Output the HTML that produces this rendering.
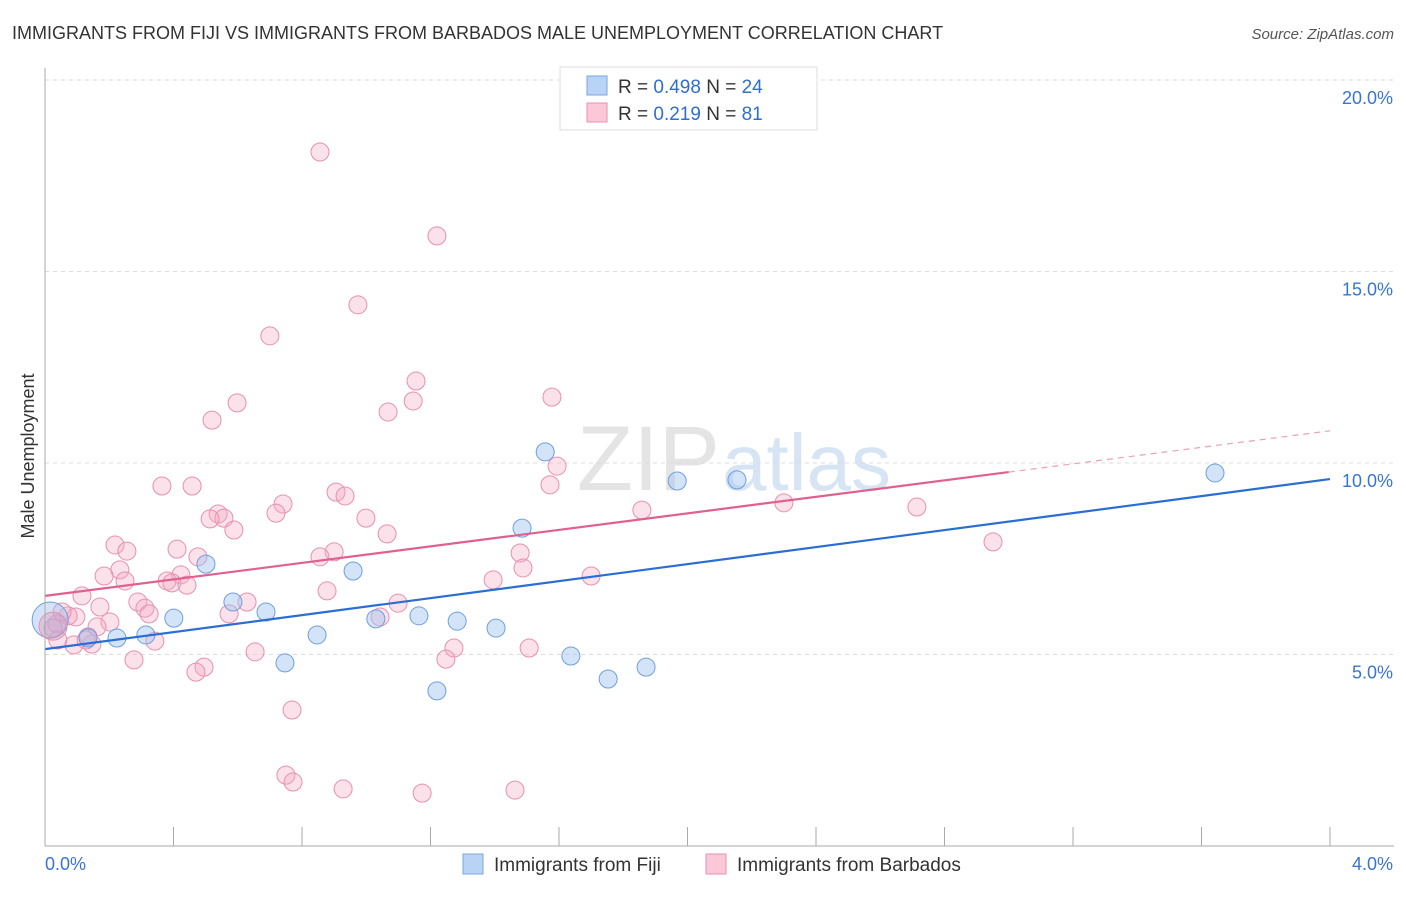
<!DOCTYPE html>
<html><head><meta charset="utf-8"><style>
body{margin:0;background:#fff;font-family:"Liberation Sans",sans-serif}
svg text{font-family:"Liberation Sans",sans-serif}
</style></head><body>
<svg id="c" width="1406" height="892">
<text x="12" y="39" font-size="18" fill="#333">IMMIGRANTS FROM FIJI VS IMMIGRANTS FROM BARBADOS MALE UNEMPLOYMENT CORRELATION CHART</text>
<text x="1394" y="39" font-size="15" fill="#555" text-anchor="end" font-style="italic">Source: ZipAtlas.com</text>
<text x="720" y="490" font-size="92" fill="#e4e4e4" text-anchor="end" font-family="Liberation Serif">ZIP</text>
<text x="722" y="490" font-size="80" fill="#d6e4f4">atlas</text>
<g id="grid"></g><g id="pts"></g><g id="lines"></g><g id="axes"></g>
<text transform="translate(34,456) rotate(-90)" font-size="18" fill="#333" text-anchor="middle">Male Unemployment</text>
<g>
<rect x="560" y="67" width="257" height="63" fill="#fff" stroke="#ddd"/>
<rect x="587" y="76" width="20" height="19" fill="#b8d3f5" stroke="#7aa6e0"/>
<rect x="587" y="103" width="20" height="19" fill="#fbc8d8" stroke="#e98fb0"/>
<text x="618" y="93" font-size="19" fill="#333">R = <tspan fill="#2f6fcf">0.498</tspan>   N = <tspan fill="#2f6fcf">24</tspan></text>
<text x="618" y="120" font-size="19" fill="#333">R =  <tspan fill="#2f6fcf">0.219</tspan>   N =  <tspan fill="#2f6fcf">81</tspan></text>
</g>
<g>
<rect x="463" y="854" width="20" height="20" fill="#b8d3f5" stroke="#7aa6e0"/>
<text x="494" y="871" font-size="19" fill="#333">Immigrants from Fiji</text>
<rect x="706" y="854" width="20" height="20" fill="#fbc8d8" stroke="#e98fb0"/>
<text x="737" y="871" font-size="19" fill="#333">Immigrants from Barbados</text>
</g>
</svg>
<script>
const yTicks=[5,10,15,20];
const yTickLabels=["5.0%","10.0%","15.0%","20.0%"];
const xTickLabels=["0.0%","4.0%"];
const fijiX=[0.016,0.134,0.224,0.314,0.401,0.501,0.585,0.688,0.747,0.847,0.959,1.030,1.164,1.220,1.283,1.404,1.485,1.557,1.637,1.753,1.871,1.968,2.154,3.642];
const fijiY=[5.90,5.43,5.43,5.51,5.95,7.36,6.37,6.11,4.78,5.51,7.18,5.93,6.01,4.05,5.87,5.69,8.30,10.29,4.96,4.36,4.67,9.53,9.56,9.74];
const barbX=[0.856,1.220,0.974,0.700,1.155,1.578,1.068,1.146,0.598,0.520,1.594,0.364,0.458,1.572,0.906,0.934,0.741,0.719,0.539,0.557,0.514,0.999,1.858,2.300,2.714,0.588,1.065,0.218,0.255,0.411,0.900,1.479,0.856,0.476,2.951,0.233,0.184,0.423,1.488,1.700,1.395,0.380,0.249,0.395,0.442,0.878,0.115,0.289,0.629,1.099,0.171,0.311,0.573,0.324,1.043,0.096,0.072,0.202,0.037,0.025,0.162,0.134,0.342,0.090,0.146,0.654,1.273,1.507,1.248,0.277,0.495,0.470,0.769,0.750,0.772,0.928,1.174,1.463,0.040,0.053,0.128];
const barbY=[18.12,15.93,14.13,13.32,12.14,11.72,11.33,11.62,11.57,11.12,9.92,9.40,9.40,9.43,9.24,9.14,8.93,8.69,8.67,8.56,8.54,8.56,8.77,8.96,8.85,8.25,8.15,7.86,7.70,7.75,7.68,7.65,7.55,7.55,7.94,7.21,7.05,7.08,7.26,7.05,6.95,6.92,6.92,6.87,6.81,6.66,6.53,6.37,6.37,6.34,6.24,6.21,6.06,6.06,5.98,5.98,6.01,5.85,5.80,5.69,5.72,5.46,5.35,5.25,5.27,5.07,5.17,5.17,4.88,4.86,4.67,4.54,3.55,1.85,1.67,1.49,1.38,1.46,5.38,6.11,5.38];
const fijiTrend=[5.14,9.58];
const barbTrend=[6.53,10.84];
const barbSolidEnd=3.0;
const NS="http://www.w3.org/2000/svg";
const X=v=>45+v/4*1285, Y=v=>846-v*38.3;
function mk(tag,at,p){const e=document.createElementNS(NS,tag);for(const k in at)e.setAttribute(k,at[k]);p.appendChild(e);return e;}
const grid=document.getElementById('grid'),pts=document.getElementById('pts'),lines=document.getElementById('lines'),axes=document.getElementById('axes');
yTicks.forEach((t,i)=>{
 const l=mk('line',{x1:45,x2:1394,y1:Y(t),y2:Y(t),stroke:'#ddd','stroke-dasharray':'4,4'},grid);
 
 
 const tx=mk('text',{x:1393,y:Y(t)+24,'font-size':18,fill:'#3a74d0','text-anchor':'end'},axes);
 tx.textContent=yTickLabels[i];
 
 
});
const ax=mk('line',{x1:45,x2:45,y1:68,y2:846,stroke:'#aaa'},axes);


const bx=mk('line',{x1:45,x2:1394,y1:846,y2:846,stroke:'#aaa'},axes);


for(let i=1;i<=10;i++){
 const t=mk('line',{x1:X(i*0.4),x2:X(i*0.4),y1:827,y2:846,stroke:'#aaa'},axes);
 
 
}
[[0,45,'start'],[4,1393,'end']].forEach((d,i)=>{
 const t=mk('text',{x:d[1],y:870,'font-size':18,fill:'#3a74d0','text-anchor':d[2]},axes);
 t.textContent=xTickLabels[i];
 
 
});
function dots(xs,ys,fill,stroke,name){
 xs.forEach((x,i)=>{
  const r=(i===0&&name==='fiji-point')?18:9;
  const c=mk('circle',{cx:X(x),cy:Y(ys[i]),r:r,fill:fill,stroke:stroke,'stroke-width':1},pts);
  
  
 });
}
dots(barbX,barbY,'rgba(244,170,195,0.35)','#e98fb0','barbados-point');
dots(fijiX,fijiY,'rgba(160,196,240,0.45)','#6f9fdc','fiji-point');
const big=mk('circle',{cx:X(barbX[59]),cy:Y(barbY[59])-2,r:14,fill:'rgba(220,150,180,0.35)',stroke:'#e98fb0'},pts);


const fl=mk('line',{x1:X(0),y1:Y(fijiTrend[0]),x2:X(4),y2:Y(fijiTrend[1]),stroke:'#2a6dd4','stroke-width':2.2},lines);


const bm=barbTrend[0]+(barbTrend[1]-barbTrend[0])*barbSolidEnd/4;
const pl=mk('line',{x1:X(0),y1:Y(barbTrend[0]),x2:X(barbSolidEnd),y2:Y(bm),stroke:'#e0608f','stroke-width':2.2},lines);


const pd=mk('line',{x1:X(barbSolidEnd),y1:Y(bm),x2:X(4),y2:Y(barbTrend[1]),stroke:'#e8a0bb','stroke-width':1.2,'stroke-dasharray':'6,5'},lines);


</script>
</body></html>
